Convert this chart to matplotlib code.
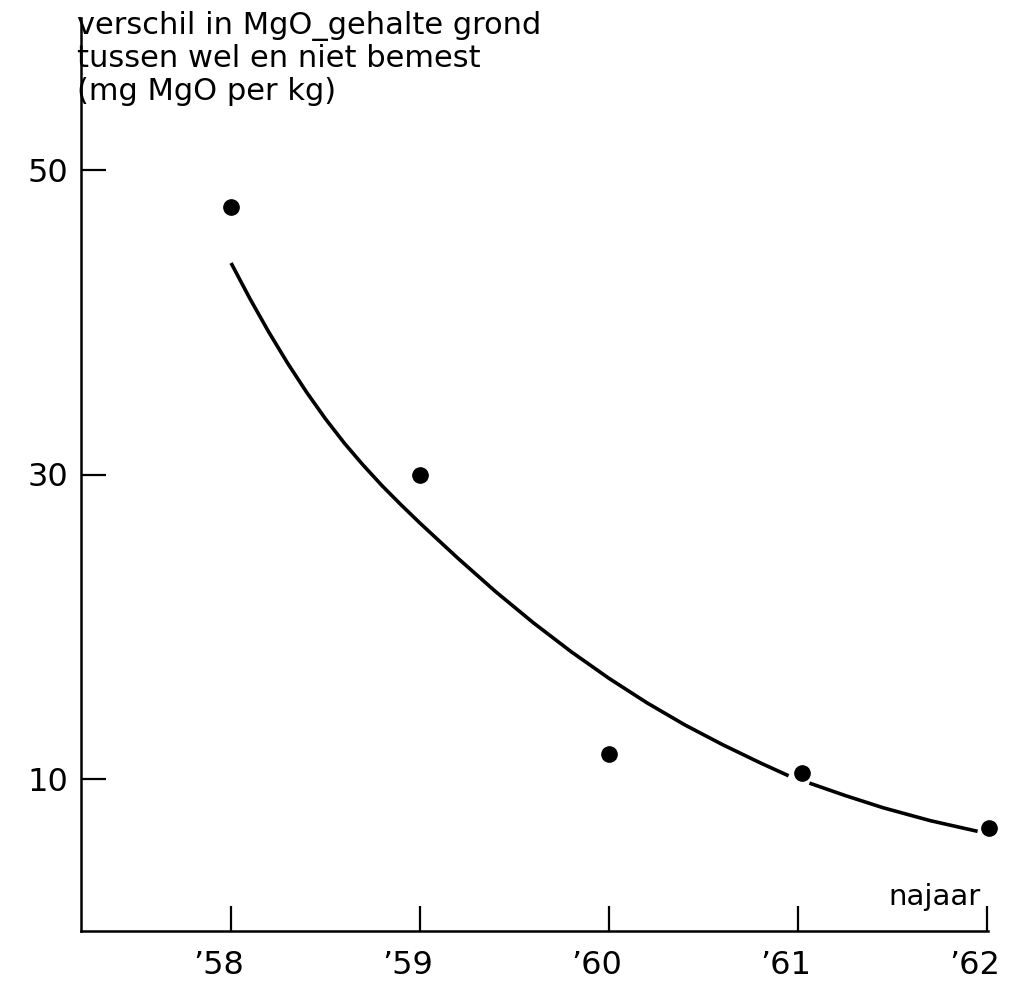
import matplotlib
matplotlib.use("Agg")
import matplotlib.pyplot as plt
from matplotlib.transforms import ScaledTranslation

# data
years = [58.0, 59.0, 60.0, 61.02, 62.01]
mgo_diff = [47.6, 30.0, 11.6, 10.4, 6.8]

# fitted curve (two segments: gap around the '61 point)
curve1_x = [58.0, 58.1, 58.2, 58.3, 58.4, 58.5, 58.6, 58.7, 58.8, 58.9, 59.0,
            59.2, 59.4, 59.6, 59.8, 60.0, 60.2, 60.4, 60.6, 60.8, 60.95]
curve1_y = [43.9, 41.55, 39.35, 37.3, 35.4, 33.65, 32.05, 30.6, 29.25, 28.0, 26.8,
            24.5, 22.3, 20.25, 18.35, 16.6, 15.0, 13.55, 12.25, 11.05, 10.2]
curve2_x = [61.06, 61.25, 61.45, 61.7, 61.95]
curve2_y = [9.72, 8.9, 8.1, 7.25, 6.55]

xticks = [58, 59, 60, 61, 62]
xticklabels = ["\u201958", "\u201959", "\u201960", "\u201961", "\u201962"]
yticks = [10, 30, 50]
yticklabels = ["10", "30", "50"]

plt.rcParams['font.family'] = ['DejaVu Sans']

fig = plt.figure(figsize=(10.1, 9.82), dpi=100)
ax = fig.add_axes([81/1010, 1-931/982, (988-81)/1010, (931-18)/982])

ax.plot(curve1_x, curve1_y, color='black', lw=2.6, solid_capstyle='butt',
        solid_joinstyle='round')
ax.plot(curve2_x, curve2_y, color='black', lw=2.6, solid_capstyle='butt',
        solid_joinstyle='round')
ax.plot(years, mgo_diff, 'o', color='black', ms=11, clip_on=False)

ax.set_xlim(57.206, 62.005)
ax.set_ylim(0, 60)

for s in ['top', 'right']:
    ax.spines[s].set_visible(False)
for s in ['left', 'bottom']:
    ax.spines[s].set_linewidth(1.8)

ax.set_xticks(xticks)
ax.set_xticklabels(xticklabels)
ax.set_yticks(yticks)
ax.set_yticklabels(yticklabels)
ax.tick_params(axis='both', direction='in', length=18, width=1.6, labelsize=23, colors='black')
ax.tick_params(axis='y', pad=9)
ax.tick_params(axis='x', pad=14)

shift = ScaledTranslation(-12/100, 0, fig.dpi_scale_trans)
for lab in ax.get_xticklabels():
    lab.set_transform(lab.get_transform() + shift)

fig.text(77/1010, 1-11/982,
         "verschil in MgO_gehalte grond\ntussen wel en niet bemest\n(mg MgO per kg)",
         ha='left', va='top', fontsize=22, linespacing=1.15, color='black')

ax.text(61.965, 1.7, "najaar", ha='right', va='baseline', fontsize=21, color='black')

fig.savefig("out.png", dpi=100)
